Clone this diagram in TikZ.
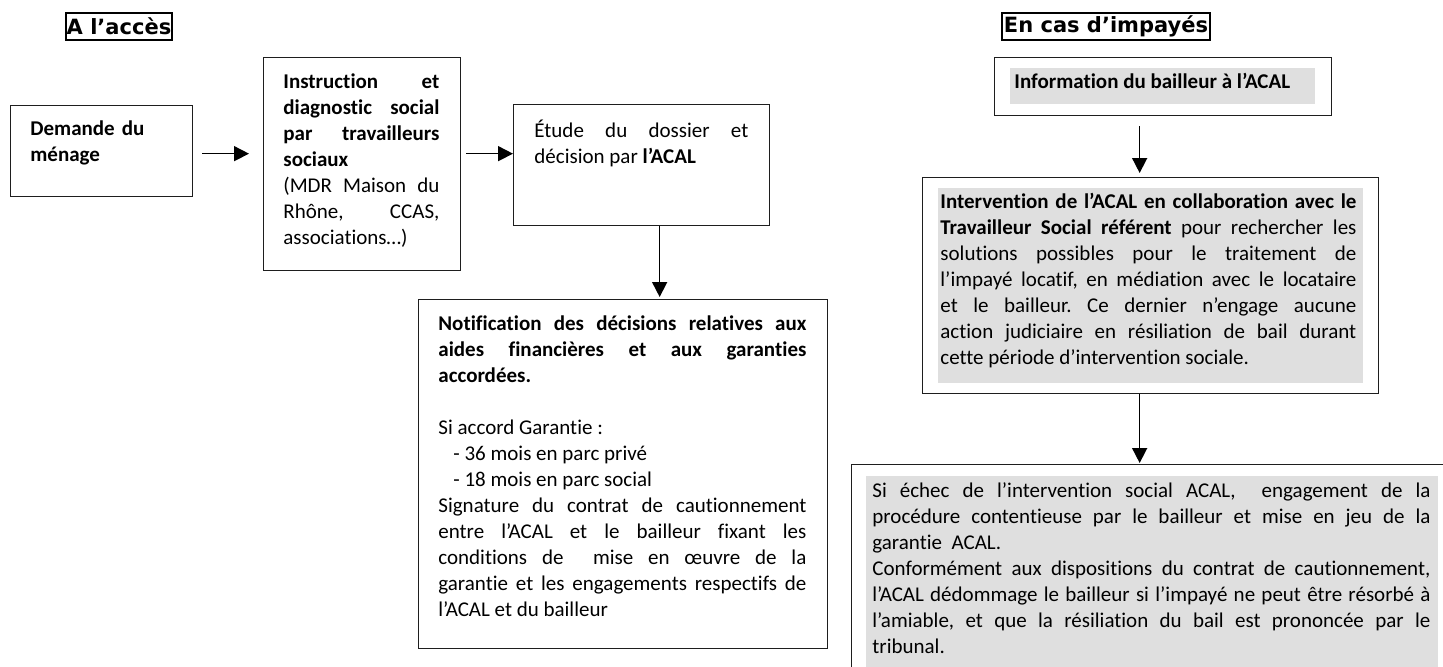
\documentclass[tikz,border=0pt]{standalone}
\usepackage{fontspec}
\setmainfont{Carlito}[Ligatures={TeX,NoCommon}]
\newfontfamily\titlefont{DejaVu Sans}
\usetikzlibrary{arrows.meta,calc}
\definecolor{shade}{HTML}{DFDFDF}
\definecolor{edge}{HTML}{1E1E1E}
\setlength\parindent{0pt}
\frenchspacing
\begin{document}
\begin{tikzpicture}[x=0.5pt,y=-0.5pt,
  box/.style={draw=edge,line width=0.65pt,inner sep=0pt,anchor=north west},
  graybox/.style={fill=shade,draw=none,inner sep=0pt,anchor=north west},
  txt/.style={inner sep=0pt,anchor=north west,align=justify,
    font=\fontsize{10.5}{13}\selectfont\frenchspacing},
  titlebox/.style={draw=black,line width=1pt,inner sep=0pt,minimum height=13.5pt,
    font=\titlefont\bfseries\fontsize{10.5}{12}\selectfont},
  arr/.style={line width=0.8pt,-{Triangle[length=7.5pt,width=7.5pt]}}]
\clip (0,0) rectangle (1443,666);
\fill[white] (0,0) rectangle (1443,666);

% titles
\node[titlebox,minimum width=53pt] (t1) at (119,26.5) {A l’accès};
\node[titlebox,minimum width=104pt] (t2) at (1106,26.5) {En cas d’impayés};

% left column boxes
\node[box,minimum width=91pt,minimum height=45.5pt] (dem) at (10,105) {};
\node[txt,text width=60pt,align=left] (demt) at (30,117)
  {\strut\textbf{Demande du\\ménage}};

\node[box,minimum width=98.5pt,minimum height=106.5pt] (ins) at (263,57) {};
\node[txt,text width=78pt] (inst) at (283,70)
  {\strut\textbf{Instruction et\linebreak diagnostic social\linebreak par travailleurs\linebreak sociaux}\par
   (MDR Maison du\linebreak Rhône, CCAS,\linebreak associations…)};

\node[box,minimum width=128pt,minimum height=60.5pt] (etu) at (513,104) {};
\node[txt,text width=107pt] (etut) at (534,119)
  {\strut Étude du dossier et\linebreak décision par \textbf{l’ACAL}};

\node[box,minimum width=204.5pt,minimum height=174.5pt] (notif) at (418,299) {};
\node[txt,text width=184pt] (notift) at (438,312)
  {\strut\textbf{Notification des décisions relatives aux\linebreak aides financières et aux garanties\linebreak accordées.}\par
   \mbox{}\par
   Si accord Garantie :\par
   \hspace*{7.5pt}- 36 mois en parc privé\par
   \hspace*{7.5pt}- 18 mois en parc social\par
   Signature du contrat de cautionnement\linebreak entre l’ACAL et le bailleur fixant les\linebreak conditions de\ \ mise en œuvre de la\linebreak garantie et les engagements respectifs de\linebreak l’ACAL et du bailleur};

% right column boxes
\node[box,minimum width=168.5pt,minimum height=29pt] (info) at (994,57) {};
\node[graybox,minimum width=152.5pt,minimum height=18pt] (infog) at (1010,68) {};
\node[txt,align=left] (infot) at (1014,70)
  {\strut\textbf{Information du bailleur à l’ACAL}};

\node[box,minimum width=228pt,minimum height=108pt] (int) at (922,177) {};
\node[graybox,minimum width=212.5pt,minimum height=97.5pt] (intg) at (938,188) {};
\node[txt,text width=208pt] (intt) at (940,190)
  {\strut\textbf{Intervention de l’ACAL en collaboration avec le\linebreak Travailleur Social référent} pour rechercher les\linebreak solutions possibles pour le traitement de\linebreak l’impayé locatif, en médiation avec le locataire\linebreak et le bailleur. Ce dernier n’engage aucune\linebreak action judiciaire en résiliation de bail durant\linebreak cette période d’intervention sociale.};

\node[box,minimum width=310pt,minimum height=110pt] (fin) at (851,464) {};
\node[graybox,minimum width=286pt,minimum height=102pt] (fing) at (866,476) {};
\node[txt,text width=279pt] (fint) at (872,479)
  {\strut Si échec de l’intervention social ACAL,\ \ engagement de la\linebreak procédure contentieuse par le bailleur et mise en jeu de la\linebreak garantie\ \ ACAL.\par
   Conformément aux dispositions du contrat de cautionnement,\linebreak l’ACAL dédommage le bailleur si l’impayé ne peut être résorbé à\linebreak l’amiable, et que la résiliation du bail est prononcée par le\linebreak tribunal.};

% connectors
\draw[arr,shorten <=4.5pt,shorten >=7pt] ([yshift=-1.25pt]dem.east) -- ([yshift=-1.25pt]dem.east -| ins.west);
\draw[arr,shorten <=2.5pt] ([yshift=5.25pt]ins.east) -- ([yshift=5.25pt]ins.east -| etu.west);
\draw[arr,shorten >=1pt] ([xshift=9pt]etu.south) -- ([xshift=9pt]etu.south |- notif.north);
\draw[arr,shorten <=5pt,shorten >=2pt] ([xshift=-5.5pt]int.north |- info.south) -- ([xshift=-5.5pt]int.north);
\draw[arr,shorten >=0.5pt] ([xshift=-5.5pt]int.south) -- ([xshift=-5.5pt]int.south |- fin.north);
\end{tikzpicture}
\end{document}
